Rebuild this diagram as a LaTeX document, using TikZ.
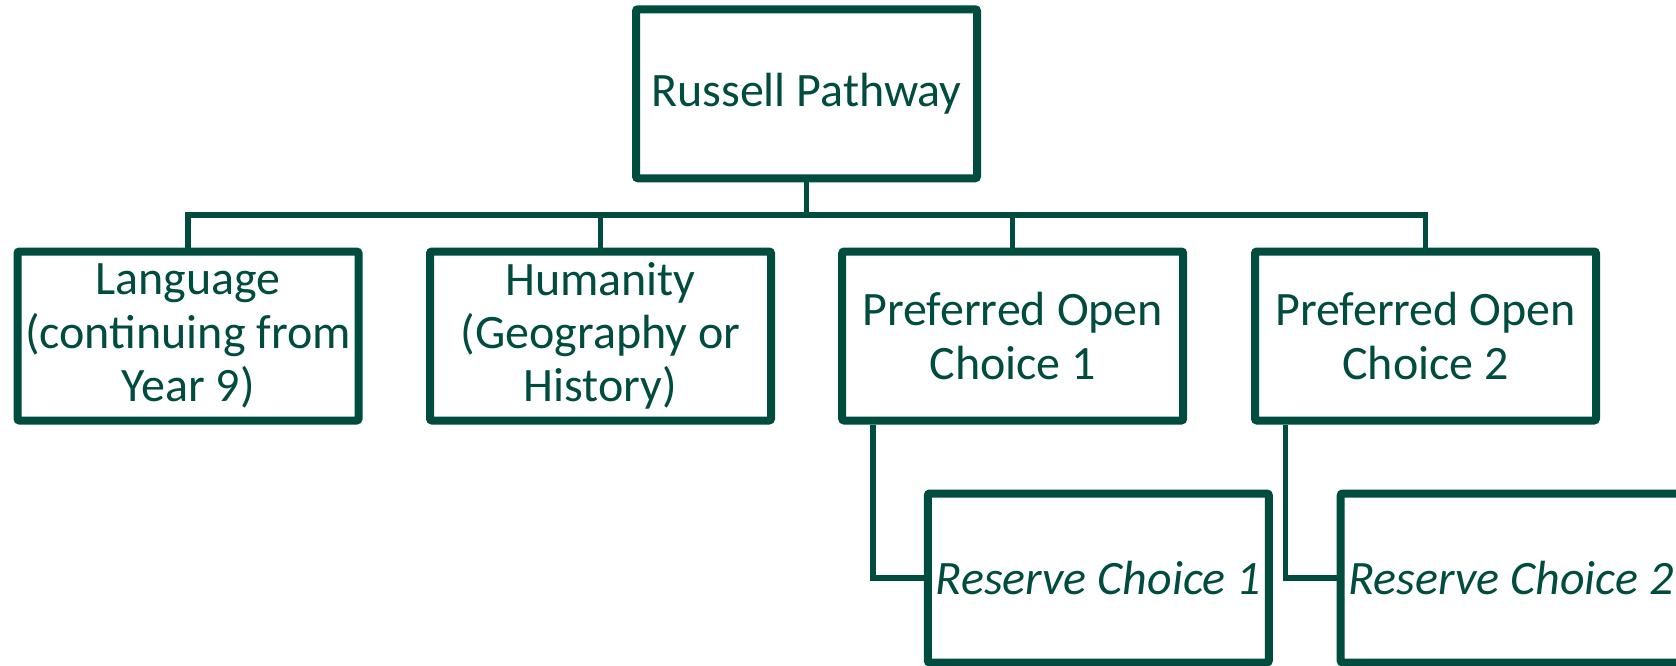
\documentclass[tikz,border=0pt]{standalone}
\usepackage{fontspec}
\setmainfont{Carlito}
\usetikzlibrary{shadows}
\definecolor{pathgreen}{RGB}{0,76,62}

\begin{document}
\begin{tikzpicture}[x=0.5pt,y=-0.5pt,
    card/.style={rectangle, draw=pathgreen, line width=4pt, fill=white,
        rounded corners=1pt, minimum width=170.5pt, minimum height=84.5pt,
        inner sep=0.5pt, align=center, text=pathgreen,
        font=\fontsize{24pt}{26.6pt}\selectfont,
        drop shadow={opacity=0.2, shadow xshift=1pt, shadow yshift=-1.5pt}},
    link/.style={draw=pathgreen, line width=2.6pt}]
                \newcommand{\busy}{215}
                \newcommand{\reservey}{578}

                \useasboundingbox (0,0) rectangle (1676,665);
                \clip (0,0) rectangle (1676,665);

                % Draw boxes
                \node[card] (top) at (806.5,93.75) {Russell Pathway};
                \node[card] (lang) at (188,336) {Language\\(continuing from\\Year 9)};
                \node[card] (hum) at (600.5,336) {Humanity\\(Geography or\\History)};
                \node[card] (poc1) at (1012.7,336) {Preferred Open\\Choice 1};
                \node[card] (poc2) at (1425.5,336) {Preferred Open\\Choice 2};
                \node[card] (res1) at (1098.3,\reservey) {\itshape Reserve Choice 1};
                \node[card] (res2) at (1511.2,\reservey) {\itshape Reserve Choice 2};

                % Draw tree lines
                \coordinate (bus) at (806.5,\busy);
                \draw[link] (top.south) -- (bus);
                \foreach \c in {lang,hum,poc1,poc2} {
                    \draw[link] (bus) -| (\c.north);
                }
                \draw[link] ([xshift=17.35pt]poc1.south west) |- (res1.west);
                \draw[link] ([xshift=17.35pt]poc2.south west) |- (res2.west);
            \end{tikzpicture}
\end{document}
